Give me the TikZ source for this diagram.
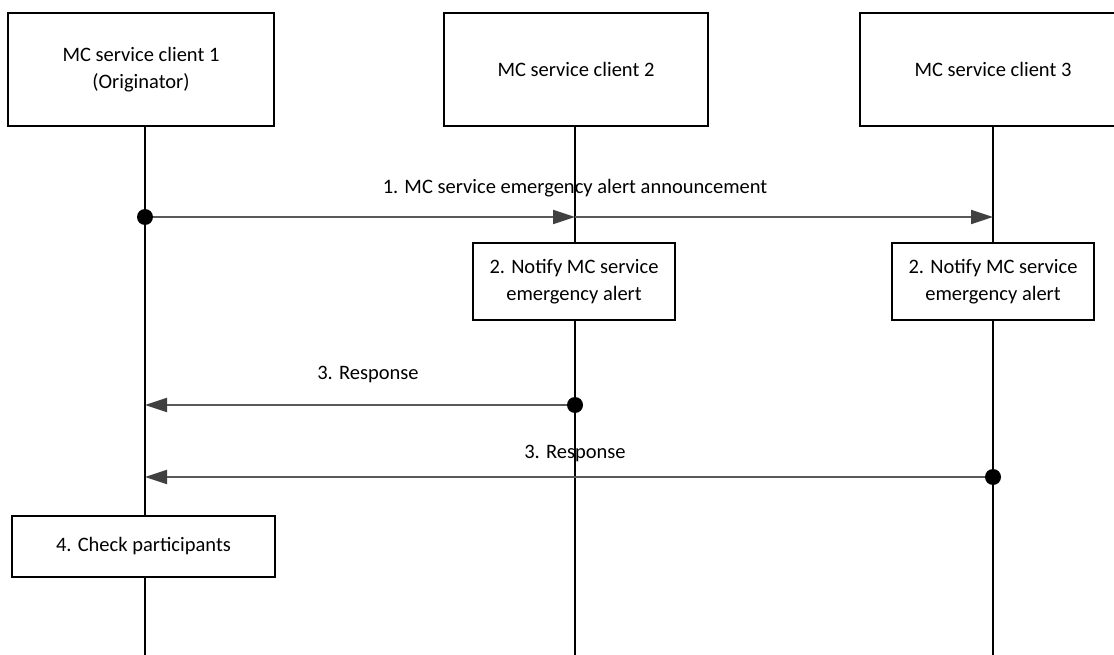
\documentclass[tikz,border=0pt]{standalone}
\usepackage{fontspec}
\setmainfont{Carlito}
\usetikzlibrary{arrows.meta}
\definecolor{msgline}{HTML}{595959}
\definecolor{tipfill}{HTML}{404040}
\begin{document}
\begin{tikzpicture}[x=1pt,y=-1pt,
  every node/.style={font=\fontsize{20.5}{27.5}\selectfont},
  actor/.style={draw=black, line width=1.5pt, fill=white, align=center, inner sep=0pt},
  stepbox/.style={draw=black, line width=1.3pt, fill=white, align=center, inner sep=0pt},
  life/.style={draw=black, line width=1.4pt},
  msg/.style={draw=msgline, line width=2pt, -{Triangle[length=22pt,width=14pt,fill=tipfill,color=tipfill]}},
  dot/.style={circle, fill=black, inner sep=0pt, minimum size=16pt},
  lbl/.style={inner sep=0pt}]
\useasboundingbox (0,0) rectangle (1114,655);
\clip (0,0) rectangle (1114,655);
% lifeline anchors
\coordinate (l1bot) at (145,660);
\coordinate (l2bot) at (575,660);
\coordinate (l3bot) at (993,660);
% actors
\node[actor, minimum width=266pt, minimum height=113pt] (c1) at (141,69.5) {MC service client 1\\(Originator)};
\node[actor, minimum width=264pt, minimum height=113pt] (c2) at (576,69.5) {MC service client 2};
\node[actor, minimum width=266pt, minimum height=113pt] (c3) at (993,69.5) {MC service client 3};
% lifelines
\draw[life] (c1.south -| l1bot) -- (l1bot);
\draw[life] (c2.south -| l2bot) -- (l2bot);
\draw[life] (c3.south -| l3bot) -- (l3bot);
% step boxes
\node[stepbox, minimum width=202pt, minimum height=77pt] (n2) at (574,281.5) {2. Notify MC service\\emergency alert};
\node[stepbox, minimum width=202pt, minimum height=77pt] (n3) at (993,281.5) {2. Notify MC service\\emergency alert};
\node[stepbox, minimum width=263pt, minimum height=61pt] (k4) at (143.5,546.5) {4. Check participants};
% message points
\coordinate (m1a) at (145,217);
\coordinate (m1b) at (575,217);
\coordinate (m1c) at (993,217);
\coordinate (r1a) at (575,405);
\coordinate (r1b) at (145,405);
\coordinate (r2a) at (993,477);
\coordinate (r2b) at (145,477);
% messages
\draw[msg] (m1a) -- (m1b);
\draw[msg] (m1b) -- (m1c);
\node[dot] (d1) at (m1a) {};
\node[lbl] (t1) at (575,188) {1. MC service emergency alert announcement};
\draw[msg] (r1a) -- (r1b);
\node[dot] (d2) at (r1a) {};
\node[lbl] (t2) at (368,374) {3. Response};
\draw[msg] (r2a) -- (r2b);
\node[dot] (d3) at (r2a) {};
\node[lbl] (t3) at (575,453) {3. Response};
\end{tikzpicture}
\end{document}
